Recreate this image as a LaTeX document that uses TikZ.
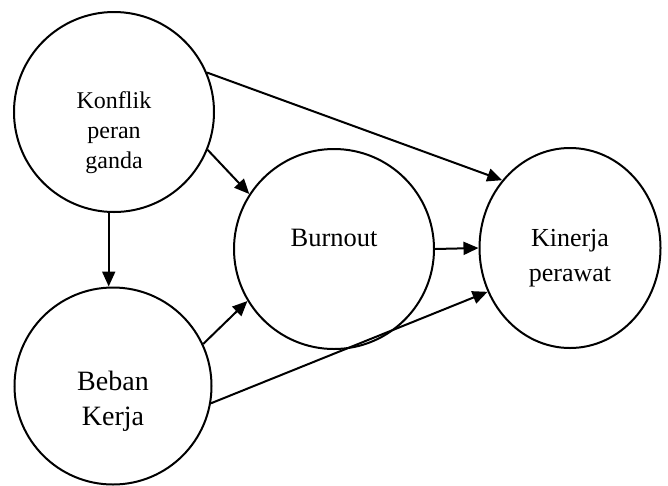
\documentclass[tikz,border=0pt]{standalone}
\usepackage{fontspec}
\setmainfont{Liberation Serif}
\usetikzlibrary{positioning,shapes.geometric,arrows.meta}

\begin{document}
\begin{tikzpicture}[x=1pt,y=-1pt,line width=2pt,
    >={Triangle[length=15pt,width=13pt]},
    konsep/.style={circle,draw,inner sep=0pt,minimum size=#1},
    konsep/.default=200pt,
    teks/.style={align=center,inner sep=0pt}]
    \useasboundingbox (0,0) rectangle (668,485);

    % Variables
    \node[konsep] (konflik) at (114,112) {};
    \node[konsep=197pt] (beban) at (113,386) {};
    \node[konsep] (burnout) at (334,249) {};
    \node[ellipse,draw,inner sep=0pt,minimum width=181pt,minimum height=200pt] (kinerja) at (570,248) {};

    % Labels inside the variables
    \node[teks,font=\fontsize{24}{30}\selectfont] (l_konflik) at (114,133) {Konflik\\peran\\ganda};
    \node[teks,font=\fontsize{28}{35}\selectfont] (l_beban) at (113,401) {Beban\\Kerja};
    \node[teks,font=\fontsize{26.5}{32}\selectfont] (l_burnout) at (334,238) {Burnout};
    \node[teks,font=\fontsize{26}{35}\selectfont] (l_kinerja) at (570,258) {Kinerja\\perawat};

    \draw[->] (konflik.-93) -- (konflik.-93 |- beban.north);
    \draw[->] (konflik.-22) -- (burnout.147);
    \draw[->] (konflik.23) -- (kinerja.135);
    \draw[->] (beban.25) -- (burnout.211);
    \draw[->] (beban.-10) -- (kinerja.208);
    \draw[->] (burnout.east) -- (kinerja.west);
\end{tikzpicture}
\end{document}
